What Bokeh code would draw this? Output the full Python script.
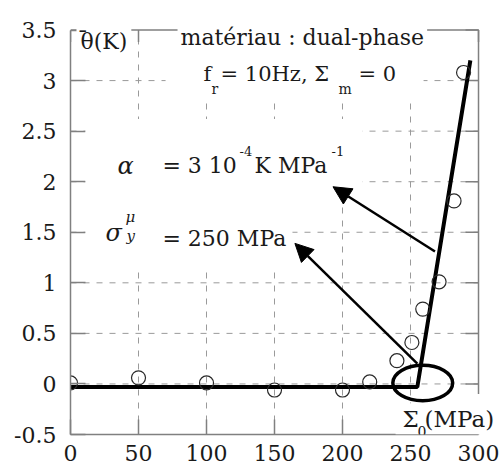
from bokeh.plotting import figure
from bokeh.models import FixedTicker, Range1d, Label, BoxAnnotation, Arrow, NormalHead
from bokeh.embed import file_html
from bokeh.resources import INLINE

# ---- data ----
meas_x = [0, 50, 100, 150, 200, 220, 240, 251, 259, 271, 282, 289]
meas_y = [0.01, 0.06, 0.01, -0.06, -0.06, 0.02, 0.23, 0.41, 0.74, 1.01, 1.81, 3.08]
model_x = [0, 255, 294]
model_y = [-0.03, -0.03, 3.2]
ellipse_x = [259]
ellipse_y = [0.01]
ellipse_w = [44]
ellipse_h = [0.35]
x_ticks = [0, 50, 100, 150, 200, 250, 300]
x_tick_labels = ["0", "50", "100", "150", "200", "250", "300"]
y_ticks = [-0.5, 0, 0.5, 1, 1.5, 2, 2.5, 3, 3.5]
y_tick_labels = ["-0.5", "0", "0.5", "1", "1.5", "2", "2.5", "3", "3.5"]

FONT = "DejaVu Serif"
TXT = "#1a1a1a"
FRAME = "#808080"
GRID = "#9a9a9a"

XMIN, XMAX = x_ticks[0], x_ticks[-1]
YMIN, YMAX = y_ticks[0], y_ticks[-1]

# the plotting frame reaches the top and right canvas edges so that texts overlapping
# the chart box are not clipped; the box itself is the 0..300 x -0.5..3.5 region
p = figure(width=501, height=472, x_range=Range1d(XMIN, 316.9), y_range=Range1d(YMIN, 3.792),
           output_backend="svg", toolbar_location=None,
           min_border_left=70, min_border_right=0, min_border_top=0, min_border_bottom=38)
p.outline_line_color = None
p.background_fill_color = "white"
p.border_fill_color = "white"
p.grid.visible = False


def style_axis(ax, ticks, labels, bounds, standoff):
    ax.ticker = FixedTicker(ticks=ticks)
    ax.major_label_overrides = {t: l for t, l in zip(ticks, labels)}
    ax.bounds = bounds
    ax.major_tick_in = 15
    ax.major_tick_out = 0
    ax.minor_tick_line_color = None
    ax.axis_line_color = FRAME
    ax.axis_line_width = 1.5
    ax.major_tick_line_color = FRAME
    ax.major_tick_line_width = 1.5
    ax.major_label_text_font = FONT
    ax.major_label_text_font_size = "22px"
    ax.major_label_text_color = TXT
    ax.major_label_standoff = standoff


style_axis(p.xaxis[0], x_ticks, x_tick_labels, (XMIN, XMAX), 10)
style_axis(p.yaxis[0], y_ticks, y_tick_labels, (YMIN, YMAX), 14)

# dashed grid inside the chart box
gx = x_ticks[1:-1]
gy = y_ticks[1:-1]
p.segment(x0=gx, y0=[YMIN] * len(gx), x1=gx, y1=[YMAX] * len(gx),
          line_color=GRID, line_dash="6 7", line_width=1)
p.segment(x0=[XMIN] * len(gy), y0=gy, x1=[XMAX] * len(gy), y1=gy,
          line_color=GRID, line_dash="6 7", line_width=1)

# top and right sides of the chart box, with inward ticks
p.line([XMIN, XMAX, XMAX], [YMAX, YMAX, -0.1], line_color=FRAME, line_width=1.5)
tick_dy = 12 / 101.1
p.segment(x0=x_ticks, y0=[YMAX] * len(x_ticks), x1=x_ticks, y1=[YMAX - tick_dy] * len(x_ticks),
          line_color=FRAME, line_width=1.5)
ry = [v for v in y_ticks if v > -0.1]
tick_dx = 13 / 1.36
p.segment(x0=[XMAX] * len(ry), y0=ry, x1=[XMAX - tick_dx] * len(ry), y1=ry,
          line_color=FRAME, line_width=1.5)

# data
p.line(model_x, model_y, line_color="black", line_width=4)
p.scatter(meas_x, meas_y, marker="circle", size=14, fill_color=None,
          line_color="#2a2a2a", line_width=1.2)
p.ellipse(x=ellipse_x, y=ellipse_y, width=ellipse_w, height=ellipse_h,
          fill_color=None, line_color="black", line_width=3.5)

# white text boxes hiding the grid behind the annotations
for (l, r, t, b) in [(69.9, 259.6, 3.35, 2.83), (11, 214.7, 2.62, 1.81),
                     (11, 163.2, 1.76, 1.12), (239, 316.9, -0.19, YMIN)]:
    p.add_layout(BoxAnnotation(left=l, right=r, top=t, bottom=b, fill_color="white",
                               fill_alpha=1, line_color=None))

# arrows
for (xs, ys, xe, ye) in [(268, 1.31, 193, 1.95), (255, 0.20, 165, 1.39)]:
    p.add_layout(Arrow(end=NormalHead(size=18, fill_color="black", line_color="black"),
                       x_start=xs, y_start=ys, x_end=xe, y_end=ye,
                       line_color="black", line_width=2.5))


def lab(x, y, text, size="22px", style="normal", bg=False, pad=0):
    kw = dict(x=x, y=y, text=text, text_font=FONT, text_font_size=size,
              text_font_style=style, text_color=TXT, text_baseline="alphabetic",
              text_align="left")
    if bg:
        kw.update(background_fill_color="white", background_fill_alpha=1, padding=pad)
    p.add_layout(Label(**kw))


lab(4.4, 3.386, "θ(K)", bg=True, pad=4)
lab(5.0, 3.41, "¯")
lab(78.7, 3.426, "matériau : dual-phase", bg=True, pad=3)
lab(97.8, 3.069, "f", size="21px")
lab(103.7, 2.921, "r", size="14px")
lab(110.3, 3.069, "= 10Hz, Σ", size="21px")
lab(197.1, 2.921, "m", size="14px")
lab(211.8, 3.069, "= 0", size="21px")

lab(34.6, 2.158, "α", size="24px", style="italic")
lab(67.6, 2.158, "= 3 10")
lab(124.3, 2.307, "-4", size="13px")
lab(135.3, 2.158, "K MPa")
lab(191.9, 2.307, "-1", size="13px")

lab(25.7, 1.495, "σ", size="24px", style="italic")
lab(40.4, 1.653, "μ", size="15px", style="italic")
lab(41.2, 1.465, "y", size="15px", style="italic")
lab(67.6, 1.436, "= 250 MPa")

lab(244.1, -0.35, "Σ", size="23px")
lab(255.1, -0.475, "0", size="14px")
lab(260.3, -0.35, "(MPa)", size="23px")

with open("out.html", "w", encoding="utf-8") as f:
    f.write(file_html(p, INLINE))
